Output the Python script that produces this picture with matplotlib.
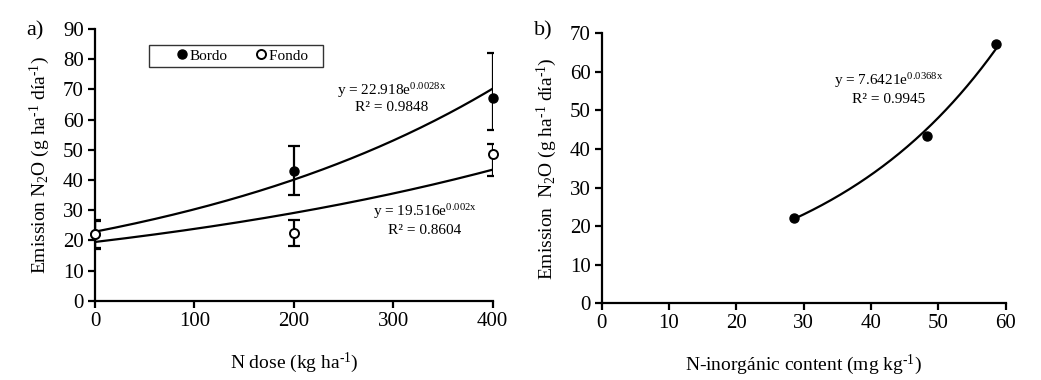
import matplotlib
matplotlib.use("Agg")
import matplotlib.pyplot as plt
import numpy as np

plt.rcParams["font.family"] = ["Liberation Serif", "DejaVu Serif"]
plt.rcParams["mathtext.fontset"] = "custom"
plt.rcParams["mathtext.rm"] = "Liberation Serif"
plt.rcParams["mathtext.it"] = "Liberation Serif:italic"

# ---------------------------------------------------------------------------
# Panel a) N dose vs N2O emission
# ---------------------------------------------------------------------------
DOSE = [0, 200, 400]
BORDO = [22.0, 43.0, 67.0]
BORDO_ERR_LO = [4.8, 8.0, 10.4]
BORDO_ERR_HI = [4.6, 8.4, 15.0]
FONDO = [22.0, 22.5, 48.7]
FONDO_ERR_LO = [4.6, 4.3, 7.5]
FONDO_ERR_HI = [4.8, 4.4, 3.2]

# trendline coefficients (y = a * exp(b x)) as printed on the chart
BORDO_FIT = [22.918, 0.0028]
FONDO_FIT = [19.516, 0.002]

# ---------------------------------------------------------------------------
# Panel b) inorganic N content vs N2O emission
# ---------------------------------------------------------------------------
NINORG = [28.5, 48.3, 58.5]
EMISSION_B = [22.2, 43.3, 67.3]
B_FIT = [7.6421, 0.0368]

SUP = r"$^{\text{-1}}$"
YLABEL_A = "Emission N$_2$O (g ha" + SUP + " día" + SUP + ")"
YLABEL_B = "Emission  N$_2$O (g ha" + SUP + " día" + SUP + ")"


def style_axes(ax):
    for side in ("top", "right"):
        ax.spines[side].set_visible(False)
    for side in ("left", "bottom"):
        ax.spines[side].set_linewidth(1.6)
    ax.tick_params(direction="out", length=5, width=1.6, labelsize=15, pad=3)


fig = plt.figure(figsize=(10.41, 3.8), dpi=100)

# ----- panel a -----
ax1 = fig.add_axes([0.0913, 0.208, 0.382, 0.716])
ax1.errorbar(DOSE, BORDO, yerr=[BORDO_ERR_LO, BORDO_ERR_HI], fmt="none",
             ecolor="black", elinewidth=1.6, capsize=4, capthick=1.6, zorder=2)
ax1.errorbar(DOSE, FONDO, yerr=[FONDO_ERR_LO, FONDO_ERR_HI], fmt="none",
             ecolor="black", elinewidth=1.6, capsize=4, capthick=1.6, zorder=2)

xa = np.linspace(DOSE[0], DOSE[-1], 200)
ax1.plot(xa, BORDO_FIT[0] * np.exp(BORDO_FIT[1] * xa), color="black", lw=1.6, zorder=3)
ax1.plot(xa, FONDO_FIT[0] * np.exp(FONDO_FIT[1] * xa), color="black", lw=1.6, zorder=3)

ax1.plot(DOSE, BORDO, "o", color="black", ms=6.5, label="Bordo", zorder=4,
         clip_on=False)
ax1.plot(DOSE, FONDO, "o", mfc="white", mec="black", mew=1.4, ms=6.5,
         label="Fondo   ", zorder=5, clip_on=False)

ax1.set_xlim(0, 400)
ax1.set_ylim(0, 90)
ax1.set_xticks([0, 100, 200, 300, 400])
ax1.set_yticks(np.arange(0, 91, 10))
style_axes(ax1)
ax1.set_xlabel("N dose (kg ha" + SUP + ")", fontsize=14, labelpad=14)
ax1.set_ylabel(YLABEL_A, fontsize=14, labelpad=8)

leg = ax1.legend(loc="upper left", bbox_to_anchor=(0.136, 0.94), ncol=2,
                 frameon=True, fancybox=False, fontsize=11,
                 handletextpad=-1.4, columnspacing=0.3, borderpad=0.25,
                 handlelength=3.8, borderaxespad=0)
leg.get_frame().set_edgecolor("black")
leg.get_frame().set_linewidth(1.0)

ax1.text(0.745, 0.775, "y = 22.918e$^{\\mathrm{0.0028x}}$", transform=ax1.transAxes,
         ha="center", va="center", fontsize=11)
ax1.text(0.745, 0.71, "R² = 0.9848", transform=ax1.transAxes,
         ha="center", va="center", fontsize=11)
ax1.text(0.83, 0.327, "y = 19.516e$^{\\mathrm{0.002x}}$", transform=ax1.transAxes,
         ha="center", va="center", fontsize=11)
ax1.text(0.83, 0.26, "R² = 0.8604", transform=ax1.transAxes,
         ha="center", va="center", fontsize=11)

fig.text(0.025, 0.92, "a)", fontsize=16, ha="left", va="center")

# ----- panel b -----
ax2 = fig.add_axes([0.578, 0.2018, 0.388, 0.7106])
xb = np.linspace(NINORG[0], NINORG[-1], 200)
ax2.plot(xb, B_FIT[0] * np.exp(B_FIT[1] * xb), color="black", lw=1.6, zorder=3)
ax2.plot(NINORG, EMISSION_B, "o", color="black", ms=6.5, zorder=4, clip_on=False)

ax2.set_xlim(0, 60)
ax2.set_ylim(0, 70)
ax2.set_xticks(np.arange(0, 61, 10))
ax2.set_yticks(np.arange(0, 71, 10))
style_axes(ax2)
ax2.set_xlabel("N-inorgánic content (mg kg" + SUP + ")", fontsize=14, labelpad=14)
ax2.set_ylabel(YLABEL_B, fontsize=14, labelpad=8)

ax2.text(0.71, 0.825, "y = 7.6421e$^{\\mathrm{0.0368x}}$", transform=ax2.transAxes,
         ha="center", va="center", fontsize=11)
ax2.text(0.71, 0.755, "R² = 0.9945", transform=ax2.transAxes,
         ha="center", va="center", fontsize=11)

fig.text(0.513, 0.92, "b)", fontsize=16, ha="left", va="center")

fig.savefig("out.png", dpi=100)
